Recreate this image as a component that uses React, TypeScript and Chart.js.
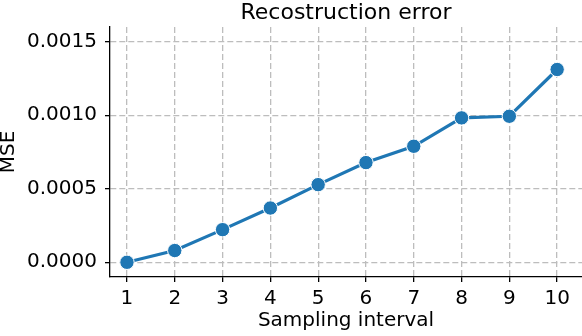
import React, { useEffect, useRef } from "react";
import { Chart, registerables } from "chart.js";

Chart.register(...registerables);

const intervals: number[] = [1, 2, 3, 4, 5, 6, 7, 8, 9, 10];
const mseValues: number[] = [0.0, 0.00008, 0.000222, 0.000369, 0.000528, 0.000678, 0.000789, 0.000982, 0.000993, 0.001311];
const yTicks: number[] = [0, 0.0005, 0.001, 0.0015];
const xTicks: number[] = intervals;

const FONT = "'DejaVu Sans', sans-serif";

export default function App() {
  const ref = useRef<HTMLCanvasElement | null>(null);

  useEffect(() => {
    if (!ref.current) return;
    const gridCommon = {
      color: "#bdbdbd",
      lineWidth: 1.3,
      drawTicks: true,
      tickLength: 5,
      tickColor: "#000000",
      tickWidth: 1.3,
      tickBorderDash: [],
    };
    const chart = new Chart(ref.current, {
      type: "line",
      data: {
        datasets: [
          {
            data: intervals.map((x, i) => ({ x, y: mseValues[i] })),
            borderColor: "#1f77b4",
            backgroundColor: "#1f77b4",
            borderWidth: 3.2,
            pointRadius: 7.2,
            pointBorderWidth: 1,
            pointBorderColor: "#ffffff",
            pointBackgroundColor: "#1f77b4",
            tension: 0,
          },
        ],
      },
      options: {
        animation: false,
        responsive: false,
        devicePixelRatio: 1,
        layout: { padding: 0, autoPadding: false },
        plugins: {
          legend: { display: false },
          tooltip: { enabled: false },
          title: {
            display: true,
            fullSize: false,
            text: "Recostruction error",
            color: "#000000",
            font: { family: FONT, size: 22, weight: "normal", lineHeight: 1.2 },
            padding: { top: 0, bottom: 0.6 },
          },
        },
        scales: {
          x: {
            type: "linear",
            min: 0.645,
            max: 10.52,
            afterBuildTicks: (s: any) => {
              s.ticks = xTicks.map((v) => ({ value: v }));
            },
            afterFit: (s: any) => {
              s.height = 59;
            },
            ticks: {
              color: "#000000",
              font: { family: FONT, size: 20 },
              padding: 5,
              maxRotation: 0,
              autoSkip: false,
              callback: (v: any) => String(v),
            },
            grid: gridCommon,
            border: { display: true, color: "#000000", width: 1.3, dash: [6, 3] },
            title: {
              display: true,
              text: "Sampling interval",
              color: "#000000",
              font: { family: FONT, size: 20, lineHeight: 1.2 },
              padding: { top: 0, bottom: 3 },
            },
          },
          y: {
            type: "linear",
            min: -0.0001,
            max: 0.0016,
            afterBuildTicks: (s: any) => {
              s.ticks = yTicks.map((v) => ({ value: v }));
            },
            afterFit: (s: any) => {
              s.width = 110;
            },
            ticks: {
              color: "#000000",
              font: { family: FONT, size: 20 },
              padding: 8,
              autoSkip: false,
              callback: (v: any) => Number(v).toFixed(4),
            },
            grid: gridCommon,
            border: { display: true, color: "#000000", width: 1.3, dash: [6, 3] },
            title: {
              display: true,
              text: "MSE",
              color: "#000000",
              font: { family: FONT, size: 20, lineHeight: 1.0 },
              padding: { top: -1, bottom: 0 },
            },
          },
        },
      },
    } as any);
    return () => chart.destroy();
  }, []);

  return (
    <div style={{ position: "fixed", left: 0, top: 0, width: 582, height: 336, background: "#ffffff" }}>
      <canvas ref={ref} width={582} height={336} style={{ display: "block", width: 582, height: 336 }} />
    </div>
  );
}
